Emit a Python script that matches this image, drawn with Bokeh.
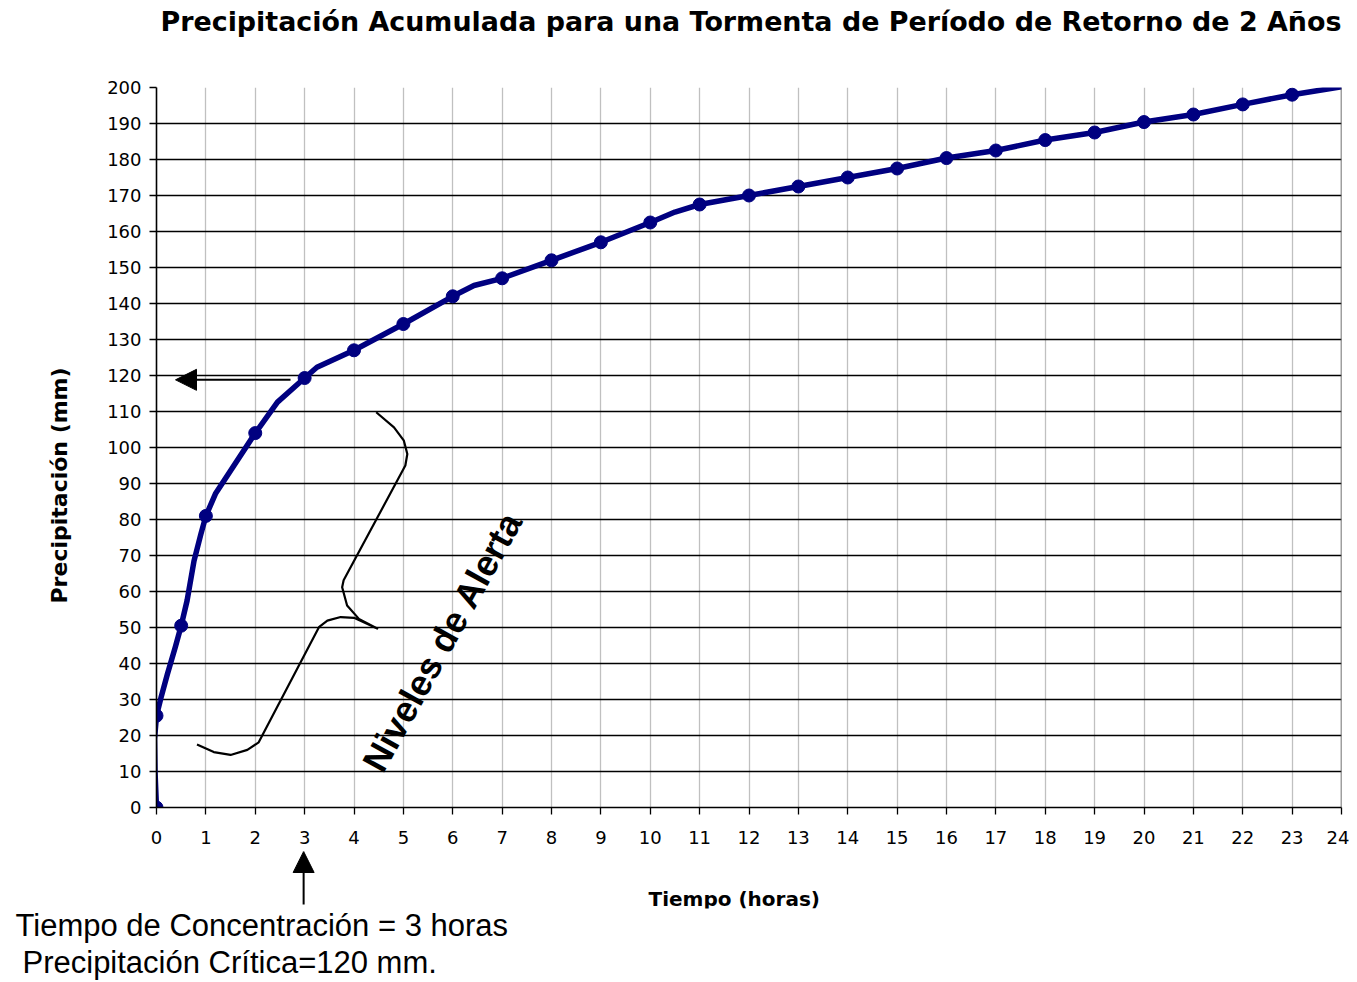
from bokeh.plotting import figure
from bokeh.layouts import column
from bokeh.models import Range1d, Label, Arrow, NormalHead, Span, Title
from bokeh.embed import file_html
from bokeh.resources import INLINE

# ---------------- data ----------------
hour_marked = [0, 0, 0.5, 1, 2, 3, 4, 5, 6, 7, 8, 9, 10, 11, 12, 13, 14, 15,
               16, 17, 18, 19, 20, 21, 22, 23]
precip_marked = [0, 25.5, 50.5, 81, 104, 119.3, 127, 134.3, 142, 147, 152, 157,
                 162.5, 167.5, 170, 172.5, 175, 177.5, 180.4, 182.5, 185.4,
                 187.5, 190.4, 192.5, 195.3, 198]

hour_curve = [0, -0.03, -0.04, 0, 0.1, 0.22, 0.38, 0.5, 0.62, 0.76, 0.9, 1,
              1.2, 2, 2.45, 3, 3.25, 4, 5, 6, 6.43, 7, 8, 9, 10, 10.5, 11, 12,
              13, 14, 15, 16, 17, 18, 19, 20, 21, 22, 23, 24]
precip_curve = [0, 10, 19, 25.5, 31, 37, 44.5, 50.5, 57.5, 68.5, 76, 81,
                87.3, 104, 112.6, 119.3, 122.3, 127, 134.3, 142, 145, 147, 152,
                157, 162.5, 165.4, 167.5, 170, 172.5, 175, 177.5, 180.4, 182.5,
                185.4, 187.5, 190.4, 192.5, 195.3, 198, 200.2]

brace_hour = [4.45, 4.81, 5.01, 5.08, 5.04, 3.79, 3.76, 3.86, 4.10, 4.47,
              4.0, 3.73, 3.46, 3.29, 2.07, 1.84, 1.5, 1.16, 0.82]
brace_precip = [109.8, 105.6, 101.9, 98.2, 95, 63.1, 61.2, 56.1, 52.4, 49.7,
                52.7, 52.9, 51.9, 50.1, 18.1, 16, 14.6, 15.4, 17.5]

x_ticks = list(range(0, 25))
y_ticks = list(range(0, 201, 10))

title_text = "Precipitación Acumulada para una Tormenta de Período de Retorno de 2 Años"
x_title = "Tiempo (horas)"
y_title = "Precipitación (mm)"
note_line1 = "Tiempo de Concentración = 3 horas"
note_line2 = "Precipitación Crítica=120 mm."
brace_text = "Niveles de Alerta"
critical_hour = 3
critical_precip = 118.8

# ---------------- geometry (page pixels) ----------------
W = 1349
X0_PX, Y0_PX = 156.0, 807.0       # page pixel of (0, 0)
X24_PX, Y200_PX = 1341.0, 87.0
PX_PER_H = (X24_PX - X0_PX) / 24
PX_PER_MM = (Y0_PX - Y200_PX) / 200
TOP_H = 45            # strip holding the title
MAIN_BOTTOM = 851     # page y where the main figure ends
STRIP_FRAME_B = 909   # page y of the bottom strip frame's lower edge
PAGE_BOTTOM = 982


def px2x(px):
    return (px - X0_PX) / PX_PER_H


def py2y(py):
    return (Y0_PX - py) / PX_PER_MM


def strip(y_top, frame_bottom, y_bottom):
    """Blank figure; its frame is aligned with the main frame, in page pixels."""
    f = figure(width=W, height=int(y_bottom - y_top),
               x_range=Range1d(X0_PX, X24_PX),
               y_range=Range1d(frame_bottom, y_top),
               min_border_left=int(X0_PX), min_border_right=int(W - X24_PX),
               min_border_top=0, min_border_bottom=int(y_bottom - frame_bottom),
               x_axis_location=None, y_axis_location=None,
               output_backend="svg", toolbar_location=None)
    f.outline_line_color = None
    f.grid.grid_line_color = None
    f.background_fill_color = "white"
    f.border_fill_color = "white"
    return f


# ---------------- title strip ----------------
top = strip(0, TOP_H, TOP_H)
top.add_layout(Label(x=160, y=20.5, text=title_text,
                     text_align="left", text_baseline="alphabetic",
                     text_font="DejaVu Sans", text_font_style="bold",
                     text_font_size="26.9px", text_color="black"))

# ---------------- main chart ----------------
p = figure(
    frame_width=int(X24_PX - X0_PX), frame_height=int(Y0_PX - Y200_PX),
    min_border_left=int(X0_PX), min_border_right=int(W - X24_PX),
    min_border_top=int(Y200_PX - TOP_H), min_border_bottom=int(MAIN_BOTTOM - Y0_PX),
    x_range=Range1d(0, 24), y_range=Range1d(0, 200),
    output_backend="svg", toolbar_location=None,
)
p.outline_line_color = None
p.background_fill_color = "white"
p.border_fill_color = "white"

p.xaxis.ticker = x_ticks
p.yaxis.ticker = y_ticks
p.xgrid.grid_line_color = "#c0c0c0"
p.xgrid.grid_line_width = 1.3
p.ygrid.grid_line_color = "black"
p.ygrid.grid_line_width = 1.5

for ax in (p.xaxis[0], p.yaxis[0]):
    ax.axis_line_color = "black"
    ax.axis_line_width = 1.6
    ax.major_tick_line_color = "black"
    ax.major_tick_line_width = 1.3
    ax.major_tick_out = 7
    ax.major_tick_in = 0
    ax.minor_tick_line_color = None
    ax.major_label_text_font = "DejaVu Sans"
    ax.major_label_text_font_size = "18px"
    ax.major_label_text_color = "black"
p.xaxis.major_label_standoff = 16
p.yaxis.major_label_standoff = 8

p.add_layout(Span(location=24, dimension="height", line_color="#404040",
                  line_width=1.5))

p.add_layout(Title(text=y_title, align="left", offset=Y0_PX - 603, standoff=65,
                   text_font="DejaVu Sans", text_font_style="bold",
                   text_font_size="22px", text_color="black"), "left")

p.line(hour_curve, precip_curve, line_color="#000080", line_width=5.5,
       line_join="round", line_cap="round")
p.scatter(hour_marked, precip_marked, size=13, fill_color="#000080",
          line_color="#000080")

p.line(brace_hour, brace_precip, line_color="black", line_width=2.2,
       line_join="round")

p.add_layout(Arrow(end=NormalHead(size=21, fill_color="black", line_color="black"),
                   x_start=px2x(290), y_start=critical_precip,
                   x_end=px2x(175), y_end=critical_precip,
                   line_color="black", line_width=2))

p.add_layout(Label(x=px2x(442), y=py2y(641), text=brace_text, angle=61,
                   angle_units="deg",
                   text_align="center", text_baseline="middle",
                   text_font="Liberation Sans", text_font_style="bold",
                   text_font_size="36px", text_color="black"))

# ---------------- bottom strip ----------------
bot = strip(MAIN_BOTTOM, STRIP_FRAME_B, PAGE_BOTTOM)
arrow_x = X0_PX + critical_hour * PX_PER_H - 1
bot.add_layout(Arrow(end=NormalHead(size=21, fill_color="black", line_color="black"),
                     x_start=arrow_x, y_start=905, x_end=arrow_x, y_end=MAIN_BOTTOM,
                     line_color="black", line_width=2))
bot.add_layout(Label(x=648, y=899, text=x_title,
                     text_align="left", text_baseline="alphabetic",
                     text_font="DejaVu Sans", text_font_style="bold",
                     text_font_size="20px", text_color="black"))
bot.add_layout(Title(text=note_line1, align="left", offset=15 - X0_PX, standoff=-5,
                     text_font="Liberation Sans", text_font_style="normal",
                     text_font_size="31px", text_color="black"), "below")
bot.add_layout(Title(text=note_line2, align="left", offset=22 - X0_PX, standoff=5,
                     text_font="Liberation Sans", text_font_style="normal",
                     text_font_size="31px", text_color="black"), "below")

layout = column(top, p, bot, spacing=0)
open("out.html", "w").write(file_html(layout, INLINE))
